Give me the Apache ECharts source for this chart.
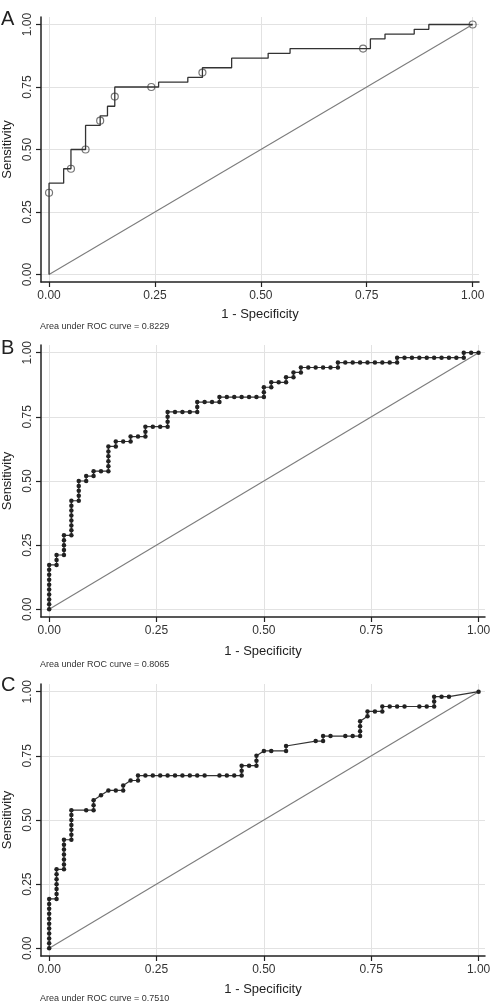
<!doctype html>
<html>
<head>
<meta charset="utf-8"/>
<title>ROC curves</title>
<script src="https://cdn.jsdelivr.net/npm/echarts@6/dist/echarts.min.js"></script>
<style>
*{
    margin: 0;
    padding: 0;
}
body{background-color:#ffffff;}
#main{
    width:492px;
    height:1002px;
}
</style>
</head>
<body>
<div id="main"></div>

<script type="text/javascript">
var N_NEG = 58;
var N_POS = 52;

var tickValues = [0, 0.25, 0.5, 0.75, 1];
var panelLetters = ['A', 'B', 'C'];
var aucValues = ['0.8229', '0.8065', '0.7510'];

// panel A: corners of the stepped ROC curve, [false positives, true positives]
var stepA = [[0,0],[0,19],[2,22],[3,26],[5,31],[7,33],[8,35],[9,39],[15,40],[19,41],
    [21,43],[25,45],[30,46],[33,47],[44,49],[46,50],[50,51],[52,52],[58,52]];
// panel A: hollow circles (cutpoints)
var circlesA = [[0,17],[3,22],[5,26],[7,32],[9,37],[14,39],[21,42],[43,47],[58,52]];

// panel B: every cutpoint, [false positives, true positives]
var cutsB = [
    [0,0],[0,1],[0,2],[0,3],[0,4],[0,5],[0,6],[0,7],[0,8],[0,9],
    [1,9],[1,10],[1,11],
    [2,11],[2,12],[2,13],[2,14],[2,15],
    [3,15],[3,16],[3,17],[3,18],[3,19],[3,20],[3,21],[3,22],
    [4,22],[4,23],[4,24],[4,25],[4,26],
    [5,26],[5,27],
    [6,27],[6,28],
    [7,28],[8,28],[8,29],[8,30],[8,31],[8,32],[8,33],
    [9,33],[9,34],
    [10,34],[11,34],[11,35],
    [12,35],[13,35],[13,36],[13,37],
    [14,37],[15,37],[16,37],[16,38],[16,39],[16,40],
    [17,40],[18,40],[19,40],[20,40],[20,41],[20,42],
    [21,42],[22,42],[23,42],[23,43],
    [24,43],[25,43],[26,43],[27,43],[28,43],[29,43],[29,44],[29,45],
    [30,45],[30,46],
    [31,46],[32,46],[32,47],
    [33,47],[33,48],
    [34,48],[34,49],
    [35,49],[36,49],[37,49],[38,49],[39,49],[39,50],
    [40,50],[41,50],[42,50],[43,50],[44,50],[45,50],[46,50],[47,50],[47,51],
    [48,51],[49,51],[50,51],[51,51],[52,51],[53,51],[54,51],[55,51],[56,51],[56,52],
    [57,52],[58,52]
];

// panel C: every cutpoint (ties give the slanted pieces)
var cutsC = [
    [0,0],[0,1],[0,2],[0,3],[0,4],[0,5],[0,6],[0,7],[0,8],[0,9],[0,10],
    [1,10],[1,11],[1,12],[1,13],[1,14],[1,15],[1,16],
    [2,16],[2,17],[2,18],[2,19],[2,20],[2,21],[2,22],
    [3,22],[3,23],[3,24],[3,25],[3,26],[3,27],[3,28],
    [5,28],[6,28],[6,29],[6,30],
    [7,31],[8,32],[9,32],[10,32],[10,33],
    [11,34],[12,34],[12,35],
    [13,35],[14,35],[15,35],[16,35],[17,35],[18,35],[19,35],[20,35],[21,35],
    [23,35],[24,35],[25,35],[26,35],[26,36],[26,37],
    [27,37],[28,37],[28,38],[28,39],
    [29,40],[30,40],[32,40],[32,41],
    [36,42],[37,42],[37,43],
    [38,43],[40,43],[41,43],[42,43],[42,44],[42,45],[42,46],
    [43,47],[43,48],[44,48],[45,48],[45,49],
    [46,49],[47,49],[48,49],[50,49],[51,49],[52,49],[52,50],[52,51],
    [53,51],[54,51],[58,52]
];

function toRates(list) {
    return list.map(function (p) { return [p[0] / N_NEG, p[1] / N_POS]; });
}

var FONT = 'Liberation Sans, Arial, sans-serif';
var grids = [
    {left: 41, top: 17, width: 438, height: 265, outerBoundsMode: 'none'},
    {left: 41, top: 345, width: 444, height: 272, outerBoundsMode: 'none'},
    {left: 41, top: 684, width: 444, height: 272, outerBoundsMode: 'none'}
];
var letterY = [21, 350, 687];
var aucY = [327, 665, 999];
var nameGaps = [26, 28, 27];

var xAxes = [], yAxes = [], series = [], graphics = [];

for (var i = 0; i < 3; i++) {
    xAxes.push({
        type: 'value', gridIndex: i, min: -0.019, max: 1.015,
        name: '1 - Specificity', nameLocation: 'middle', nameGap: nameGaps[i],
        nameTextStyle: {fontSize: 13, color: '#222', fontFamily: FONT},
        axisLine: {onZero: false, lineStyle: {color: '#222', width: 1.5}},
        axisTick: {customValues: tickValues, length: 5, lineStyle: {color: '#222', width: 1.2}},
        axisLabel: {customValues: tickValues, margin: 8, fontSize: 12, color: '#333', fontFamily: FONT,
            formatter: function (v) { return v.toFixed(2); }},
        splitLine: {show: true, lineStyle: {color: '#e2e2e2', width: 1}}
    });
    yAxes.push({
        type: 'value', gridIndex: i, min: -0.03, max: 1.03,
        name: 'Sensitivity', nameLocation: 'middle', nameGap: 27,
        nameTextStyle: {fontSize: 13, color: '#222', fontFamily: FONT},
        axisLine: {onZero: false, lineStyle: {color: '#222', width: 1.5}},
        axisTick: {customValues: tickValues, length: 5, lineStyle: {color: '#222', width: 1.2}},
        axisLabel: {customValues: tickValues, rotate: 90, margin: 7, fontSize: 12, color: '#333', fontFamily: FONT,
            formatter: function (v) { return v.toFixed(2); }},
        splitLine: {show: true, lineStyle: {color: '#e2e2e2', width: 1}}
    });
    // reference diagonal
    series.push({
        type: 'line', xAxisIndex: i, yAxisIndex: i, data: [[0, 0], [1, 1]],
        symbol: 'none', silent: true,
        lineStyle: {color: '#7c7c7c', width: 1.1}
    });
    graphics.push({
        type: 'text', left: 1, top: letterY[i] - 12,
        style: {text: panelLetters[i], fontSize: 20, fill: '#222', fontFamily: FONT}
    });
    graphics.push({
        type: 'text', left: 40, top: aucY[i] - 5,
        style: {text: 'Area under ROC curve = ' + aucValues[i], fontSize: 9, fill: '#333', fontFamily: FONT}
    });
}

series.push({
    type: 'line', xAxisIndex: 0, yAxisIndex: 0, step: 'end',
    data: toRates(stepA), symbol: 'none',
    lineStyle: {color: '#333', width: 1.3}
});
series.push({
    type: 'scatter', xAxisIndex: 0, yAxisIndex: 0,
    data: toRates(circlesA), symbol: 'circle', symbolSize: 7,
    itemStyle: {color: 'rgba(0,0,0,0)', borderColor: '#555', borderWidth: 1.2}
});
series.push({
    type: 'line', xAxisIndex: 1, yAxisIndex: 1,
    data: toRates(cutsB), symbol: 'circle', symbolSize: 4.5,
    itemStyle: {color: '#222'},
    lineStyle: {color: '#333', width: 1.2}
});
series.push({
    type: 'line', xAxisIndex: 2, yAxisIndex: 2,
    data: toRates(cutsC), symbol: 'circle', symbolSize: 4.5,
    itemStyle: {color: '#222'},
    lineStyle: {color: '#333', width: 1.2}
});

var myChart = echarts.init(document.getElementById('main'));
var option = {
    backgroundColor: '#ffffff',
    animation: false,
    grid: grids,
    xAxis: xAxes,
    yAxis: yAxes,
    series: series,
    graphic: graphics
};
myChart.setOption(option);
</script>
</body>
</html>
